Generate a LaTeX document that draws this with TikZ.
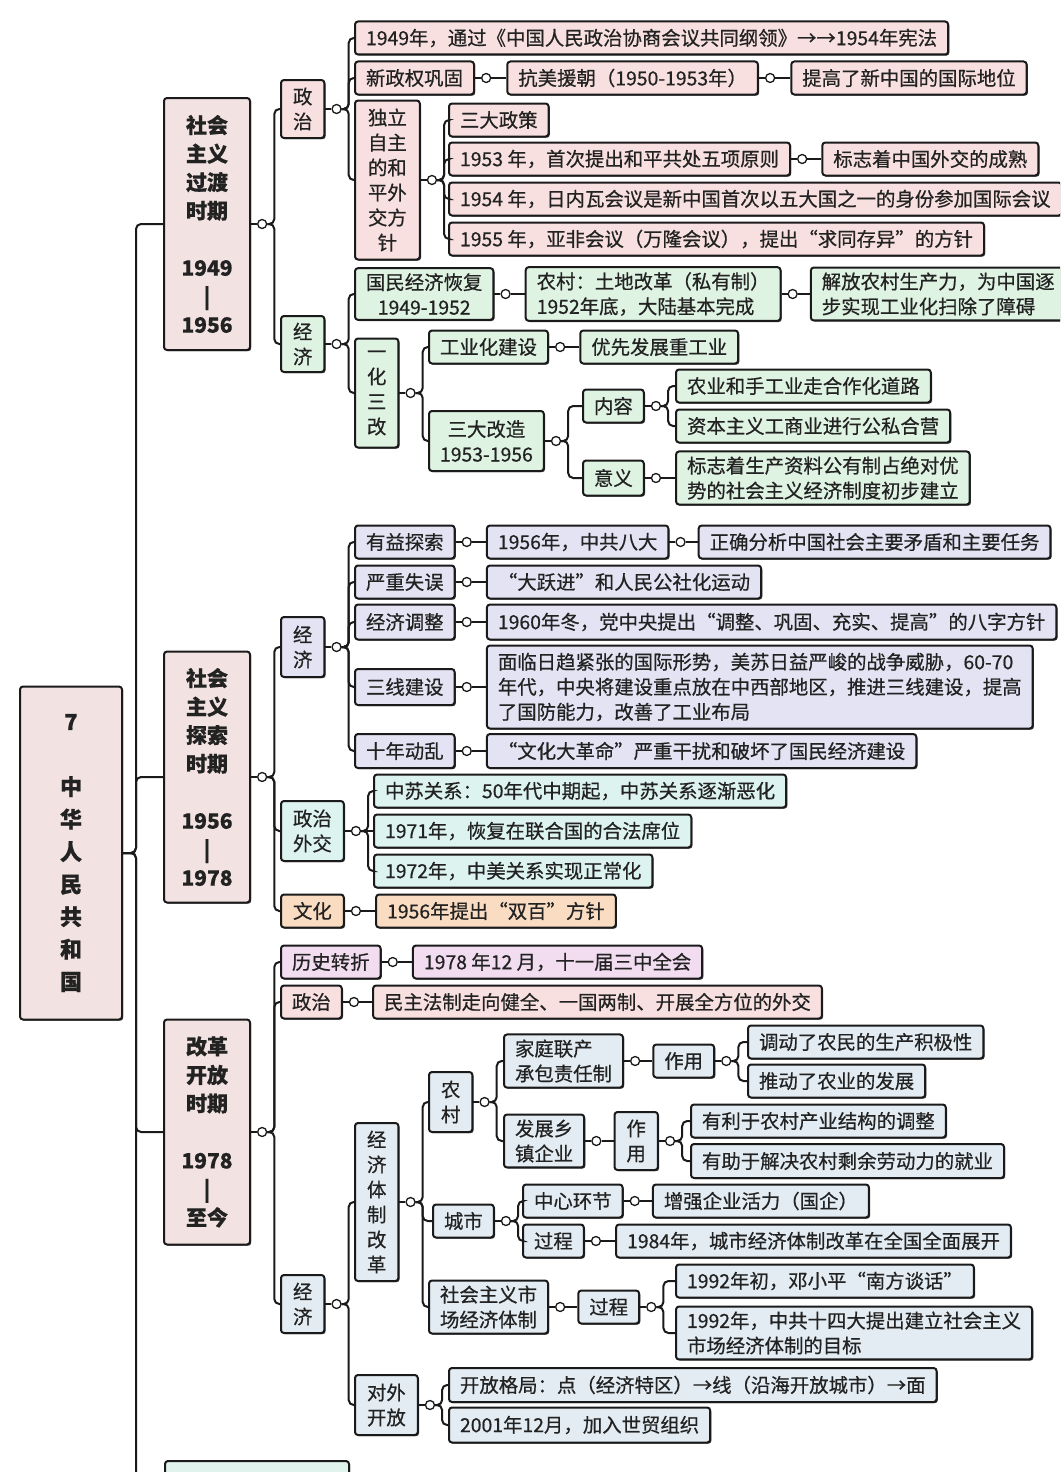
\documentclass[tikz,border=0pt]{standalone}
\usepackage{fontspec}
\setmainfont{Noto Sans CJK SC}[RawFeature={embolden=0.6}]
\usepackage[dvipsnames]{xcolor}
\usetikzlibrary{positioning,shadows}

\definecolor{edge}{HTML}{1A1A1A}
\definecolor{ink}{HTML}{222222}
\definecolor{rosefill}{HTML}{F8E0E0}
\definecolor{periodfill}{HTML}{F3E2E2}
\definecolor{mintfill}{HTML}{DFF3E3}
\definecolor{lilacfill}{HTML}{E3E3F3}
\definecolor{aquafill}{HTML}{DDF3EF}
\definecolor{peachfill}{HTML}{FADCC2}
\definecolor{orchidfill}{HTML}{F2DCF0}
\definecolor{skyfill}{HTML}{E3ECF3}
\definecolor{seafill}{HTML}{E0F3EC}

\begin{document}
\begin{tikzpicture}[x=1pt,y=-1pt,thick,node distance=15pt,
  base node/.style={draw=edge,line width=2pt,rounded corners=3pt,text=ink,anchor=west,
    inner xsep=11pt,inner ysep=5pt,minimum height=33pt,align=left,
    font=\fontsize{19.4}{25}\selectfont,
    drop shadow={shadow xshift=1.2pt,shadow yshift=-1.2pt,fill=edge,opacity=0.85}},
  rose node/.style={base node,fill=rosefill},
  mint node/.style={base node,fill=mintfill},
  lilac node/.style={base node,fill=lilacfill},
  aqua node/.style={base node,fill=aquafill},
  peach node/.style={base node,fill=peachfill},
  orchid node/.style={base node,fill=orchidfill},
  sky node/.style={base node,fill=skyfill},
  stack/.style={align=center,inner xsep=12pt},
  period node/.style={base node,fill=periodfill,anchor=center,align=center,minimum width=86pt,
    font=\bfseries\fontsize{21}{28.5}\selectfont},
  knob node/.style={circle,draw=edge,fill=white,line width=1.3pt,inner sep=0pt,minimum size=9pt},
  link/.style={draw=edge,line width=2pt,rounded corners=5pt}]

\useasboundingbox (0,0) rectangle (1060,1472);
\clip (0,0) rectangle (1060,1472);
\fill[white] (0,0) rectangle (1060,1472);

% root and periods
\node[period node,minimum width=102pt,minimum height=333pt,font=\bfseries\fontsize{22}{32.5}\selectfont]
  (root) at (71,853) {7\\[32.5pt]中\\华\\人\\民\\共\\和\\国};
\node[period node,minimum height=252pt] (p1) at (207,224) {社会\\主义\\过渡\\时期\\[28.5pt]1949\\|\\1956};
\node[period node,minimum height=251pt] (p2) at (207,777) {社会\\主义\\探索\\时期\\[28.5pt]1956\\|\\1978};
\node[period node,minimum height=225pt] (p3) at (207,1132) {改革\\开放\\时期\\[28.5pt]1978\\|\\至今};
\node[base node,fill=seafill,anchor=north west,minimum width=184pt,minimum height=50pt] (p4) at (164,1460) {};

\draw[link] (root.east) -- ++(13,0) |- (p1.west);
\draw[link] (root.east) -- ++(13,0) |- (p2.west);
\draw[link] (root.east) -- ++(13,0) |- (p3.west);
\draw[link] (root.east) -- ++(13,0) |- (p4.west);

\node[knob node,right=6pt of p1] (p1k) {};
\node[knob node,right=6pt of p2] (p2k) {};
\node[knob node,right=6pt of p3] (p3k) {};
\draw[link] (p1) -- (p1k);
\draw[link] (p2) -- (p2k);
\draw[link] (p3) -- (p3k);

% ---------- 1949-1956 ----------
\node[rose node,stack,minimum height=58pt] (p1pol) at (280,109) {政\\治};
\node[mint node,stack,minimum height=56pt] (p1eco) at (280,344) {经\\济};
\draw[link] (p1k.east) -- ++(7,0) |- (p1pol.west);
\draw[link] (p1k.east) -- ++(7,0) |- (p1eco.west);

\node[knob node,right=6pt of p1pol] (p1polk) {};
\draw[link] (p1pol) -- (p1polk);
\node[rose node] (a1) at (354,38) {1949年，通过《中国人民政治协商会议共同纲领》→→1954年宪法};
\node[rose node] (a2) at (354,78) {新政权巩固};
\node[rose node,stack,minimum height=159pt,inner xsep=13pt] (a3) at (354,180) {独立\\自主\\的和\\平外\\交方\\针};
\draw[link] (p1polk.east) -- ++(7,0) |- (a1.west);
\draw[link] (p1polk.east) -- ++(7,0) |- (a2.west);
\draw[link] (p1polk.east) -- ++(7,0) |- (a3.west);

\node[knob node,right=6pt of a2] (a2k) {};
\node[rose node,right=15pt of a2k] (a2b) {抗美援朝（1950-1953年）};
\node[knob node,right=6pt of a2b] (a2bk) {};
\node[rose node,right=15pt of a2bk] (a2c) {提高了新中国的国际地位};
\draw[link] (a2) -- (a2k);
\draw[link] (a2k) -- (a2b);
\draw[link] (a2b) -- (a2bk);
\draw[link] (a2bk) -- (a2c);

\node[knob node,right=6pt of a3] (a3k) {};
\draw[link] (a3) -- (a3k);
\node[rose node] (b1) at (448,120) {三大政策};
\node[rose node] (b2) at (448,159) {1953 年，首次提出和平共处五项原则};
\node[rose node] (b3) at (448,199) {1954 年，日内瓦会议是新中国首次以五大国之一的身份参加国际会议};
\node[rose node] (b4) at (448,239) {1955 年，亚非会议（万隆会议），提出“求同存异”的方针};
\draw[link] (a3k.east) -- ++(7,0) |- (b1.west);
\draw[link] (a3k.east) -- ++(7,0) |- (b2.west);
\draw[link] (a3k.east) -- ++(7,0) |- (b3.west);
\draw[link] (a3k.east) -- ++(7,0) |- (b4.west);
\node[knob node,right=6pt of b2] (b2k) {};
\node[rose node,right=14pt of b2k] (b2b) {标志着中国外交的成熟};
\draw[link] (b2) -- (b2k);
\draw[link] (b2k) -- (b2b);

\node[knob node,right=6pt of p1eco] (p1ecok) {};
\draw[link] (p1eco) -- (p1ecok);
\node[mint node,align=center] (c1) at (354,294) {国民经济恢复\\1949-1952};
\node[mint node,stack,minimum height=109pt] (c2) at (354,393) {一\\化\\三\\改};
\draw[link] (p1ecok.east) -- ++(7,0) |- (c1.west);
\draw[link] (p1ecok.east) -- ++(7,0) |- (c2.west);
\node[knob node,right=6pt of c1] (c1k) {};
\node[mint node,right=14pt of c1k] (c1b) {农村：土地改革（私有制）\\1952年底，大陆基本完成};
\node[knob node,right=6pt of c1b] (c1bk) {};
\node[mint node,right=12pt of c1bk] (c1c) {解放农村生产力，为中国逐\\步实现工业化扫除了障碍};
\draw[link] (c1) -- (c1k);
\draw[link] (c1k) -- (c1b);
\draw[link] (c1b) -- (c1bk);
\draw[link] (c1bk) -- (c1c);

\node[knob node,right=6pt of c2] (c2k) {};
\draw[link] (c2) -- (c2k);
\node[mint node] (d1) at (428,347) {工业化建设};
\node[mint node,align=center,minimum height=60pt] (d2) at (428,441) {三大改造\\1953-1956};
\draw[link] (c2k.east) -- ++(7,0) |- (d1.west);
\draw[link] (c2k.east) -- ++(7,0) |- (d2.west);
\node[knob node,right=6pt of d1] (d1k) {};
\node[mint node,right=14pt of d1k] (d1b) {优先发展重工业};
\draw[link] (d1) -- (d1k);
\draw[link] (d1k) -- (d1b);

\node[knob node,right=6pt of d2] (d2k) {};
\draw[link] (d2) -- (d2k);
\node[mint node] (e1) at (582,406) {内容};
\node[mint node,minimum height=35pt] (e2) at (582,478) {意义};
\draw[link] (d2k.east) -- ++(7,0) |- (e1.west);
\draw[link] (d2k.east) -- ++(7,0) |- (e2.west);
\node[knob node,right=6pt of e1] (e1k) {};
\draw[link] (e1) -- (e1k);
\node[mint node] (f1) at (675,386) {农业和手工业走合作化道路};
\node[mint node] (f2) at (675,426) {资本主义工商业进行公私合营};
\draw[link] (e1k.east) -- ++(7,0) |- (f1.west);
\draw[link] (e1k.east) -- ++(7,0) |- (f2.west);
\node[knob node,right=6pt of e2] (e2k) {};
\node[mint node,right=14pt of e2k] (f3) {标志着生产资料公有制占绝对优\\势的社会主义经济制度初步建立};
\draw[link] (e2) -- (e2k);
\draw[link] (e2k) -- (f3);

% ---------- 1956-1978 ----------
\node[lilac node,stack,minimum height=60pt] (p2eco) at (280,647) {经\\济};
\node[aqua node,stack,minimum height=60pt] (p2pol) at (280,831) {政治\\外交};
\node[peach node,inner xsep=12pt] (p2cul) at (280,911) {文化};
\draw[link] (p2k.east) -- ++(7,0) |- (p2eco.west);
\draw[link] (p2k.east) -- ++(7,0) |- (p2pol.west);
\draw[link] (p2k.east) -- ++(7,0) |- (p2cul.west);

\node[knob node,right=6pt of p2eco] (p2ecok) {};
\draw[link] (p2eco) -- (p2ecok);
\node[lilac node] (g1) at (354,542) {有益探索};
\node[lilac node] (g2) at (354,582) {严重失误};
\node[lilac node,minimum height=35pt] (g3) at (354,622) {经济调整};
\node[lilac node,minimum height=36pt] (g4) at (354,687) {三线建设};
\node[lilac node,minimum height=34pt] (g5) at (354,751) {十年动乱};
\draw[link] (p2ecok.east) -- ++(7,0) |- (g1.west);
\draw[link] (p2ecok.east) -- ++(7,0) |- (g2.west);
\draw[link] (p2ecok.east) -- ++(7,0) |- (g3.west);
\draw[link] (p2ecok.east) -- ++(7,0) |- (g4.west);
\draw[link] (p2ecok.east) -- ++(7,0) |- (g5.west);

\node[knob node,right=6pt of g1] (g1k) {};
\node[lilac node,right=14pt of g1k] (g1b) {1956年，中共八大};
\node[knob node,right=6pt of g1b] (g1bk) {};
\node[lilac node,right=12pt of g1bk] (g1c) {正确分析中国社会主要矛盾和主要任务};
\draw[link] (g1) -- (g1k);
\draw[link] (g1k) -- (g1b);
\draw[link] (g1b) -- (g1bk);
\draw[link] (g1bk) -- (g1c);
\node[knob node,right=6pt of g2] (g2k) {};
\node[lilac node,right=14pt of g2k] (g2b) {“大跃进”和人民公社化运动};
\draw[link] (g2) -- (g2k);
\draw[link] (g2k) -- (g2b);
\node[knob node,right=6pt of g3] (g3k) {};
\node[lilac node,right=14pt of g3k,minimum height=35pt] (g3b) {1960年冬，党中央提出“调整、巩固、充实、提高”的八字方针};
\draw[link] (g3) -- (g3k);
\draw[link] (g3k) -- (g3b);
\node[knob node,right=6pt of g4] (g4k) {};
\node[lilac node,right=14pt of g4k,minimum height=83pt] (g4b) {面临日趋紧张的国际形势，美苏日益严峻的战争威胁，60-70\\年代，中央将建设重点放在中西部地区，推进三线建设，提高\\了国防能力，改善了工业布局};
\draw[link] (g4) -- (g4k);
\draw[link] (g4k) -- (g4b);
\node[knob node,right=6pt of g5] (g5k) {};
\node[lilac node,right=14pt of g5k,minimum height=34pt] (g5b) {“文化大革命”严重干扰和破坏了国民经济建设};
\draw[link] (g5) -- (g5k);
\draw[link] (g5k) -- (g5b);

\node[knob node,right=6pt of p2pol] (p2polk) {};
\draw[link] (p2pol) -- (p2polk);
\node[aqua node] (h1) at (373,791) {中苏关系：50年代中期起，中苏关系逐渐恶化};
\node[aqua node] (h2) at (373,831) {1971年，恢复在联合国的合法席位};
\node[aqua node] (h3) at (373,871) {1972年，中美关系实现正常化};
\draw[link] (p2polk.east) -- ++(7,0) |- (h1.west);
\draw[link] (p2polk) -- (h2);
\draw[link] (p2polk.east) -- ++(7,0) |- (h3.west);
\node[knob node,right=6pt of p2cul] (p2culk) {};
\node[peach node,right=14pt of p2culk] (h4) {1956年提出“双百”方针};
\draw[link] (p2cul) -- (p2culk);
\draw[link] (p2culk) -- (h4);

% ---------- 1978- ----------
\node[orchid node] (i1) at (280,962) {历史转折};
\node[rose node] (i2) at (280,1002) {政治};
\node[sky node,stack,minimum height=58pt] (i3) at (280,1304) {经\\济};
\draw[link] (p3k.east) -- ++(7,0) |- (i1.west);
\draw[link] (p3k.east) -- ++(7,0) |- (i2.west);
\draw[link] (p3k.east) -- ++(7,0) |- (i3.west);
\node[knob node,right=6pt of i1] (i1k) {};
\node[orchid node,right=14pt of i1k] (i1b) {1978 年12 月，十一届三中全会};
\draw[link] (i1) -- (i1k);
\draw[link] (i1k) -- (i1b);
\node[knob node,right=6pt of i2] (i2k) {};
\node[rose node,right=13pt of i2k] (i2b) {民主法制走向健全、一国两制、开展全方位的外交};
\draw[link] (i2) -- (i2k);
\draw[link] (i2k) -- (i2b);

\node[knob node,right=6pt of i3] (i3k) {};
\draw[link] (i3) -- (i3k);
\node[sky node,stack,minimum height=158pt] (j1) at (354,1202) {经\\济\\体\\制\\改\\革};
\node[sky node,stack,minimum height=60pt] (j2) at (354,1405) {对外\\开放};
\draw[link] (i3k.east) -- ++(7,0) |- (j1.west);
\draw[link] (i3k.east) -- ++(7,0) |- (j2.west);

\node[knob node,right=6pt of j1] (j1k) {};
\draw[link] (j1) -- (j1k);
\node[sky node,stack,minimum height=60pt] (k1) at (428,1102) {农\\村};
\node[sky node] (k2) at (432,1221) {城市};
\node[sky node,align=center] (k3) at (428,1307) {社会主义市\\场经济体制};
\draw[link] (j1k.east) -- ++(7,0) |- (k1.west);
\draw[link] (j1k.east) -- ++(7,0) |- (k2.west);
\draw[link] (j1k.east) -- ++(7,0) |- (k3.west);

\node[knob node,right=6pt of k1] (k1k) {};
\draw[link] (k1) -- (k1k);
\node[sky node] (l1) at (503,1061) {家庭联产\\承包责任制};
\node[sky node] (l2) at (503,1141) {发展乡\\镇企业};
\draw[link] (k1k.east) -- ++(7,0) |- (l1.west);
\draw[link] (k1k.east) -- ++(7,0) |- (l2.west);
\node[knob node,right=6pt of l1] (l1k) {};
\node[sky node,right=12pt of l1k] (l1b) {作用};
\node[knob node,right=6pt of l1b] (l1bk) {};
\draw[link] (l1) -- (l1k);
\draw[link] (l1k) -- (l1b);
\draw[link] (l1b) -- (l1bk);
\node[sky node] (m1) at (747,1042) {调动了农民的生产积极性};
\node[sky node] (m2) at (747,1081) {推动了农业的发展};
\draw[link] (l1bk.east) -- ++(7,0) |- (m1.west);
\draw[link] (l1bk.east) -- ++(7,0) |- (m2.west);
\node[knob node,right=6pt of l2] (l2k) {};
\node[sky node,stack,right=12pt of l2k,minimum height=58pt] (l2b) {作\\用};
\node[knob node,right=6pt of l2b] (l2bk) {};
\draw[link] (l2) -- (l2k);
\draw[link] (l2k) -- (l2b);
\draw[link] (l2b) -- (l2bk);
\node[sky node] (m3) at (690,1121) {有利于农村产业结构的调整};
\node[sky node,minimum height=34pt] (m4) at (690,1161) {有助于解决农村剩余劳动力的就业};
\draw[link] (l2bk.east) -- ++(7,0) |- (m3.west);
\draw[link] (l2bk.east) -- ++(7,0) |- (m4.west);

\node[knob node,right=6pt of k2] (k2k) {};
\draw[link] (k2) -- (k2k);
\node[sky node] (n1) at (522,1201) {中心环节};
\node[sky node] (n2) at (522,1241) {过程};
\draw[link] (k2k.east) -- ++(7,0) |- (n1.west);
\draw[link] (k2k.east) -- ++(7,0) |- (n2.west);
\node[knob node,right=6pt of n1] (n1k) {};
\node[sky node,right=12pt of n1k] (n1b) {增强企业活力（国企）};
\draw[link] (n1) -- (n1k);
\draw[link] (n1k) -- (n1b);
\node[knob node,right=6pt of n2] (n2k) {};
\node[sky node,right=14pt of n2k] (n2b) {1984年，城市经济体制改革在全国全面展开};
\draw[link] (n2) -- (n2k);
\draw[link] (n2k) -- (n2b);

\node[knob node,right=6pt of k3] (k3k) {};
\node[sky node,right=12pt of k3k] (k3b) {过程};
\node[knob node,right=6pt of k3b] (k3bk) {};
\draw[link] (k3) -- (k3k);
\draw[link] (k3k) -- (k3b);
\draw[link] (k3b) -- (k3bk);
\node[sky node] (o1) at (675,1281) {1992年初，邓小平“南方谈话”};
\node[sky node] (o2) at (675,1333) {1992年，中共十四大提出建立社会主义\\市场经济体制的目标};
\draw[link] (k3bk.east) -- ++(7,0) |- (o1.west);
\draw[link] (k3bk.east) -- ++(7,0) |- (o2.west);

\node[knob node,right=6pt of j2] (j2k) {};
\draw[link] (j2) -- (j2k);
\node[sky node,minimum height=34pt] (q1) at (448,1385) {开放格局：点（经济特区）→线（沿海开放城市）→面};
\node[sky node,minimum height=35pt] (q2) at (448,1425) {2001年12月，加入世贸组织};
\draw[link] (j2k.east) -- ++(7,0) |- (q1.west);
\draw[link] (j2k.east) -- ++(7,0) |- (q2.west);

\end{tikzpicture}
\end{document}
